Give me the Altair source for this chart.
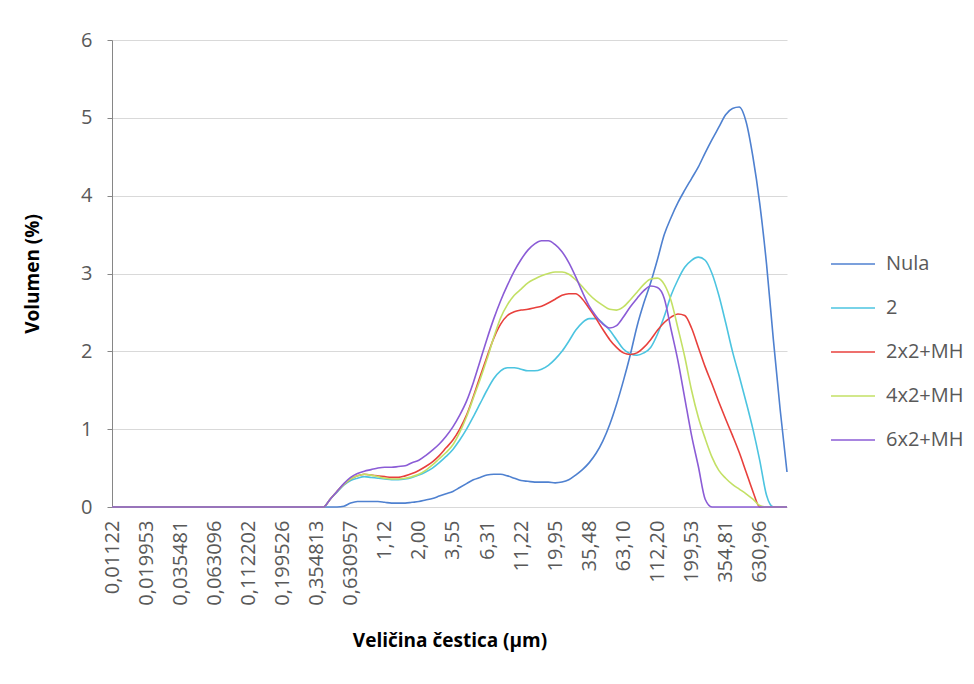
import json
import altair as alt
import pandas as pd

series_names = ["Nula", "2", "2x2+MH", "4x2+MH", "6x2+MH"]
series_colors = ["#4f81d0", "#4cc4e0", "#e8403c", "#c3e065", "#8b5cd6"]

tick_labels = ["0,01122", "0,019953", "0,035481", "0,063096", "0,112202",
               "0,199526", "0,354813", "0,630957", "1,12", "2,00", "3,55",
               "6,31", "11,22", "19,95", "35,48", "63,10", "112,20",
               "199,53", "354,81", "630,96"]

nula = [0] * 34 + [
    0.01, 0.05, 0.07, 0.07, 0.07, 0.07, 0.06, 0.05, 0.05, 0.05,
    0.06, 0.07, 0.09, 0.11, 0.14, 0.17, 0.20, 0.25, 0.30, 0.35,
    0.38, 0.41, 0.42, 0.42, 0.40, 0.37, 0.34, 0.33, 0.32, 0.32,
    0.32, 0.31, 0.32, 0.35, 0.41, 0.48, 0.57, 0.69, 0.85, 1.06,
    1.32, 1.62, 1.95, 2.32, 2.62, 2.88, 3.18, 3.50, 3.72, 3.91,
    4.07, 4.22, 4.37, 4.55, 4.72, 4.88, 5.04, 5.12, 5.14, 4.95,
    4.50, 3.90, 3.12, 2.15, 1.25, 0.45]

s2 = [0] * 32 + [
    0.10, 0.19, 0.28, 0.34, 0.37, 0.39, 0.38, 0.37, 0.36, 0.35,
    0.35, 0.36, 0.38, 0.41, 0.45, 0.50, 0.57, 0.65, 0.74, 0.86,
    1.00, 1.16, 1.33, 1.50, 1.65, 1.75, 1.79, 1.79, 1.77, 1.75,
    1.75, 1.77, 1.82, 1.90, 2.00, 2.13, 2.27, 2.37, 2.42, 2.42,
    2.36, 2.27, 2.15, 2.03, 1.97, 1.95, 1.98, 2.05, 2.22, 2.45,
    2.72, 2.92, 3.08, 3.17, 3.21, 3.17, 3.00, 2.72, 2.37, 2.00,
    1.68, 1.35, 1.00, 0.60, 0.15, 0, 0, 0]

s2x2 = [0] * 32 + [
    0.10, 0.20, 0.29, 0.36, 0.40, 0.42, 0.41, 0.40, 0.39, 0.38,
    0.38, 0.40, 0.43, 0.47, 0.52, 0.58, 0.66, 0.76, 0.86, 1.00,
    1.18, 1.42, 1.68, 1.93, 2.17, 2.35, 2.46, 2.51, 2.53, 2.54,
    2.56, 2.58, 2.62, 2.67, 2.72, 2.74, 2.74, 2.67, 2.55, 2.42,
    2.28, 2.15, 2.05, 1.98, 1.96, 1.98, 2.05, 2.15, 2.27, 2.37,
    2.44, 2.48, 2.46, 2.30, 2.05, 1.80, 1.58, 1.35, 1.13, 0.92,
    0.70, 0.45, 0.20, 0, 0, 0, 0, 0]

s4x2 = [0] * 32 + [
    0.10, 0.20, 0.29, 0.36, 0.40, 0.42, 0.41, 0.39, 0.37, 0.36,
    0.36, 0.37, 0.39, 0.42, 0.47, 0.54, 0.62, 0.70, 0.80, 0.96,
    1.16, 1.40, 1.64, 1.90, 2.18, 2.43, 2.60, 2.72, 2.80, 2.88,
    2.93, 2.97, 3.00, 3.02, 3.02, 2.99, 2.92, 2.83, 2.73, 2.65,
    2.59, 2.54, 2.53, 2.57, 2.66, 2.76, 2.86, 2.93, 2.94, 2.86,
    2.65, 2.30, 1.93, 1.50, 1.15, 0.88, 0.64, 0.47, 0.37, 0.29,
    0.23, 0.17, 0.10, 0.02, 0, 0, 0, 0]

s6x2 = [0] * 32 + [
    0.10, 0.20, 0.30, 0.38, 0.43, 0.46, 0.48, 0.50, 0.51, 0.51,
    0.52, 0.53, 0.57, 0.60, 0.66, 0.73, 0.81, 0.91, 1.03, 1.18,
    1.36, 1.60, 1.88, 2.16, 2.42, 2.65, 2.85, 3.03, 3.18, 3.30,
    3.38, 3.42, 3.42, 3.37, 3.28, 3.14, 2.96, 2.76, 2.58, 2.45,
    2.35, 2.30, 2.33, 2.44, 2.57, 2.68, 2.78, 2.84, 2.82, 2.68,
    2.28, 1.88, 1.40, 0.92, 0.52, 0.10, 0, 0, 0, 0,
    0, 0, 0, 0, 0, 0, 0, 0]

all_series = [nula, s2, s2x2, s4x2, s6x2]

rows = []
for name, vals in zip(series_names, all_series):
    for i, v in enumerate(vals):
        rows.append({"i": i, "v": v, "s": name})
df = pd.DataFrame(rows)

n_cat = len(nula)
label_expr = json.dumps(tick_labels) + "[round(datum.value / 5)]"

FONT = "Open Sans"

chart = alt.Chart(df).mark_line(strokeWidth=1.6, interpolate="monotone").encode(
    x=alt.X("i:Q",
            scale=alt.Scale(domain=[0, n_cat - 1], nice=False, zero=False),
            axis=alt.Axis(values=list(range(0, 100, 5)), labelExpr=label_expr,
                          labelAngle=-90, labelAlign="right", labelBaseline="middle",
                          ticks=False, grid=False, domain=True, domainColor="#d9d9d9",
                          labelPadding=13, labelFontSize=20, labelColor="#595959",
                          labelFont=FONT, title="Veličina čestica (µm)",
                          titleFont=FONT, titleFontSize=19, titleFontWeight="bold",
                          titleColor="#000000", titlePadding=26)),
    y=alt.Y("v:Q",
            scale=alt.Scale(domain=[0, 6], nice=False),
            axis=alt.Axis(values=[0, 1, 2, 3, 4, 5, 6], format="d",
                          tickSize=5, tickColor="#868686", domainColor="#868686",
                          gridColor="#d9d9d9", labelFontSize=20, labelColor="#595959",
                          labelFont=FONT, labelPadding=15,
                          title="Volumen (%)", titleFont=FONT, titleFontSize=19,
                          titleFontWeight="bold", titleColor="#000000",
                          titlePadding=38)),
    color=alt.Color("s:N",
                    scale=alt.Scale(domain=series_names, range=series_colors),
                    legend=alt.Legend(title=None, orient="none", legendX=718, legendY=201,
                                      symbolType="stroke", symbolSize=1936,
                                      symbolStrokeWidth=1.6, rowPadding=11,
                                      labelFontSize=20, labelFont=FONT,
                                      labelColor="#595959", labelOffset=10)),
).properties(
    width=675, height=467,
    autosize=alt.AutoSizeParams(type="none"),
    padding={"left": 104, "top": 32, "right": 179, "bottom": 169},
).configure_view(stroke=None)

chart.save("out.html", embed_options={"renderer": "svg", "actions": False})
